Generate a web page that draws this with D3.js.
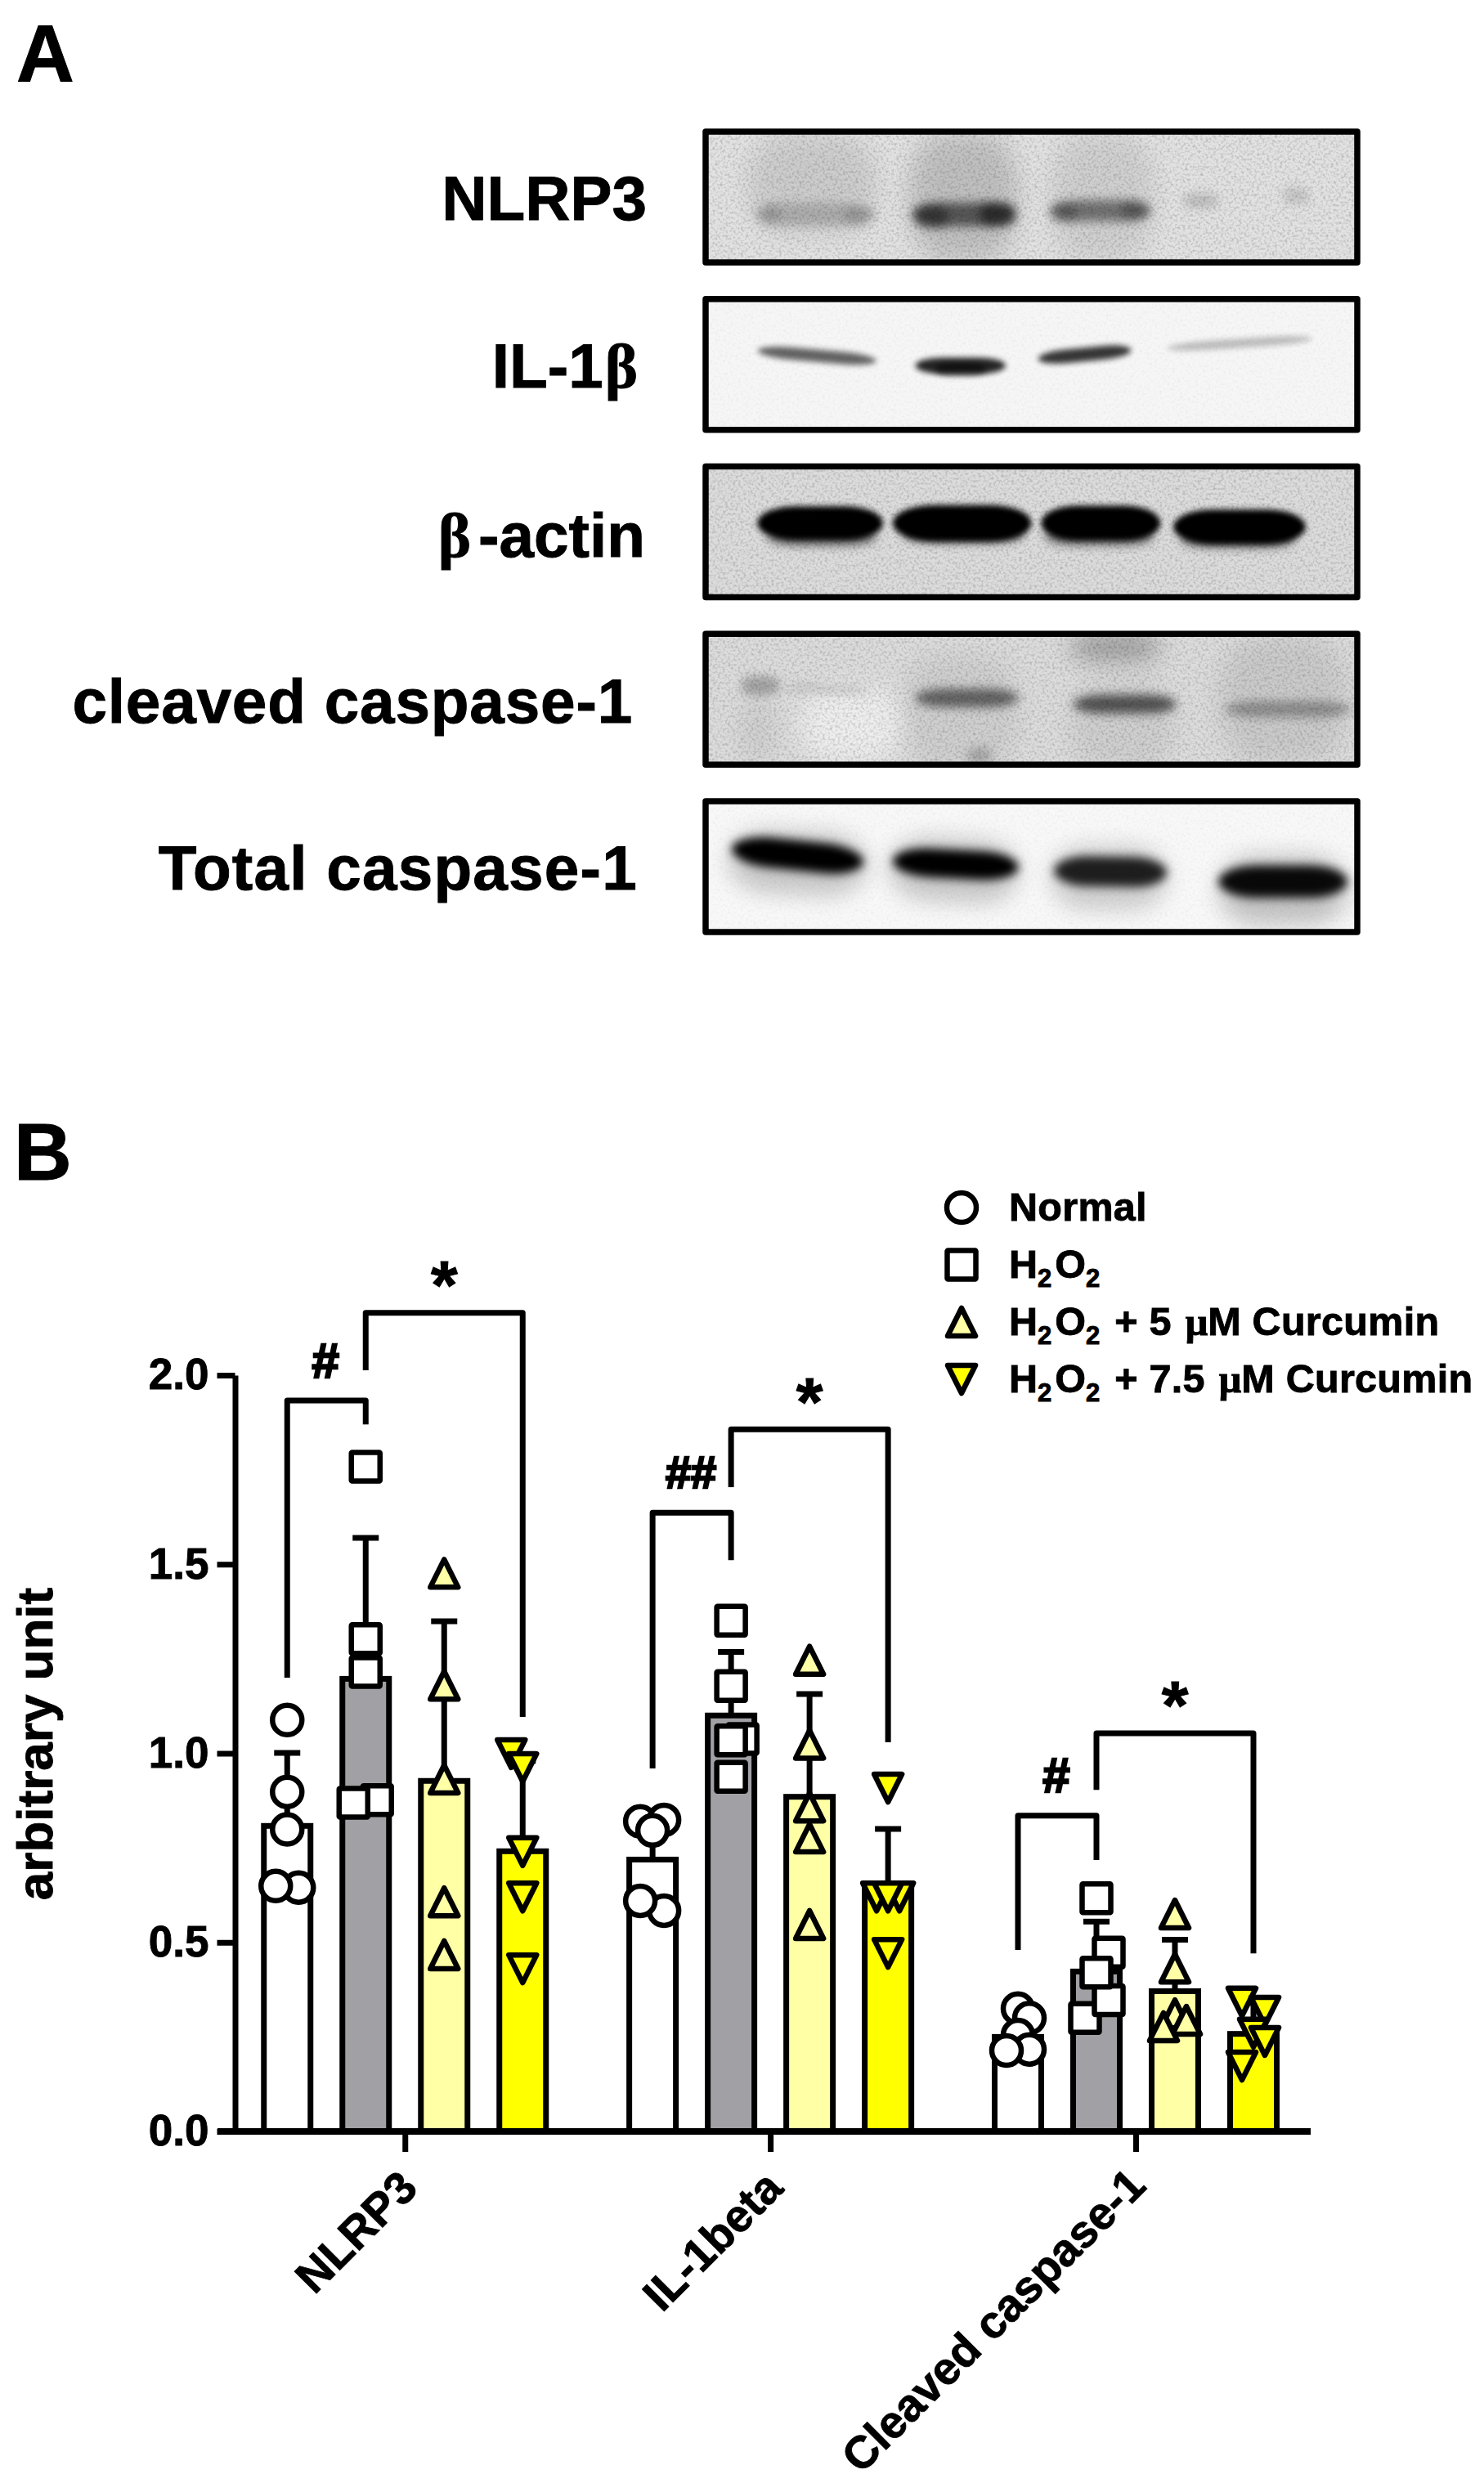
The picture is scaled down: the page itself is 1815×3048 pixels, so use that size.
<!DOCTYPE html>
<html>
<head>
<meta charset="utf-8">
<script src="https://cdn.jsdelivr.net/npm/d3@7/dist/d3.min.js"></script>
<style>
html,body{margin:0;padding:0;background:#fff}
text{font-family:"Liberation Sans",Arial,sans-serif;font-weight:700;fill:#000;stroke:#000;stroke-width:.9px}
</style>
</head>
<body>
<svg id="chart" width="1815" height="3048"></svg>
<script>
// ---------- chart values ----------
const categories = ['NLRP3', 'IL-1beta', 'Cleaved caspase-1'];
const seriesNames = ['Normal', 'H2O2', 'H2O2 + 5 µM Curcumin', 'H2O2 + 7.5 µM Curcumin'];
const yTicks = [0, 0.5, 1, 1.5, 2];

const normalMeans = [0.808, 0.719, 0.250];
const h2o2Means   = [1.197, 1.100, 0.423];
const cur5Means   = [0.927, 0.885, 0.371];
const cur75Means  = [0.741, 0.650, 0.258];

const normalTops = [1.001, 0.820, 0.310];
const h2o2Tops   = [1.570, 1.268, 0.555];
const cur5Tops   = [1.349, 1.157, 0.507];
const cur75Tops  = [0.980, 0.800, 0.340];

const normalPoints = [[1.088, 0.898, 0.799, 0.645, 0.649], [0.820, 0.824, 0.796, 0.584, 0.610], [0.325, 0.300, 0.255, 0.217, 0.214]];
const h2o2Points   = [[1.758, 1.302, 1.215, 0.876, 0.869], [1.351, 1.178, 1.038, 1.034, 0.938], [0.617, 0.473, 0.300, 0.347, 0.420]];
const cur5Points   = [[1.476, 1.180, 0.932, 0.607, 0.467], [1.246, 1.024, 0.858, 0.776, 0.547], [0.575, 0.432, 0.311, 0.294, 0.277]];
const cur75Points  = [[0.999, 0.962, 0.740, 0.620, 0.430], [0.908, 0.620, 0.620, 0.620, 0.471], [0.342, 0.318, 0.260, 0.238, 0.173]];

// sideways jitter of each point, in pixels, as the plot spreads overlapping points
const normalNudge = [[0, 0, 0, 14, -14], [-15, 14, 0, 14, -15], [0, 14, 0, 14, -14]];
const h2o2Nudge   = [[0, 0, 0, 14, -15], [0, 0, 14, 0, 0], [0, 15, -14, 15, 0]];
const cur5Nudge   = [[0, 0, 0, 0, 0], [0, 0, 0, 0, 0], [0, 0, 0, 14, -14]];
const cur75Nudge  = [[-14, 0, 0, 0, 0], [0, -14, 14, 0, 0], [-14, 14, 0, 14, -14]];

// significance brackets: category, from series, to series, top, left foot, right foot, label, label level
const bracketCat    = [0, 0, 1, 1, 2, 2];
const bracketFrom   = [0, 1, 0, 1, 0, 1];
const bracketTo     = [1, 3, 1, 3, 1, 3];
const bracketTop    = [1.933, 2.165, 1.636, 1.857, 0.835, 1.053];
const bracketLeft   = [1.200, 2.013, 0.960, 1.704, 0.480, 0.903];
const bracketRight  = [1.870, 1.096, 1.511, 1.029, 0.718, 0.471];
const bracketLabel  = ['#', '*', '##', '*', '#', '*'];
const bracketLabelY = [2.040, 2.275, 1.745, 1.966, 0.945, 1.163];

// ---------- western blot panel: band = [from %, to %, centre %, thickness %, darkness, tilt°, blur level]
const blotNames = ['NLRP3', 'IL-1β', 'β-actin', 'cleaved caspase-1', 'Total caspase-1'];
const blotBackground = ['#e2e2e2', '#f6f6f6', '#dcdcdc', '#dcdcdc', '#f8f8f8'];
const blotNLRP3 = [
  [6, 26, 40, 80, .09, 0, 2], [31, 48, 50, 100, .15, 0, 2], [53, 69, 50, 100, .08, 0, 2],
  [7, 26, 64, 18, .16, 0, 1], [8, 11, 64, 16, .12, 0, 1], [21, 25, 65, 14, .14, 0, 1],
  [31.5, 47.5, 64, 19, .55, 0, 1], [32, 37, 66, 17, .4, 0, 1], [42, 47.5, 64, 18, .5, 0, 1],
  [53, 68.5, 61, 17, .45, 0, 1], [53, 57, 63, 14, .25, 0, 1], [64, 68, 61, 14, .25, 0, 1],
  [73.5, 79, 53, 11, .16, 0, 1], [89, 93, 49, 13, .13, 0, 1]
];
const blotIL1b = [
  [7.5, 26, 43, 10, .6, 5, 0], [32, 46, 51, 13, .85, 0, 0], [35, 43, 54, 10, .5, 0, 0],
  [51, 65.5, 42, 11, .78, -5.5, 0], [71, 93.5, 33, 7, .24, -3.8, 0]
];
const blotActin = [
  [7.5, 27, 43, 27, 1, 0, 0], [28.5, 50, 43, 29, 1, 0, 0], [51.5, 70, 43, 28, 1, 0, 0], [72, 92.5, 46, 28, 1, 0, 0],
  [9, 26, 54, 14, .55, 0, 1], [30, 49, 52, 14, .55, 0, 1], [52, 69, 54, 14, .5, 0, 1], [73, 91, 56, 14, .5, 0, 1]
];
const blotCleaved = [
  [30, 48, 60, 90, .06, 0, 2], [56, 72, 70, 70, .06, 0, 2], [79, 99, 50, 100, .08, 0, 2], [56, 70, 8, 22, .28, 0, 2],
  [14, 30, 70, 60, -.5, 0, 2], [5, 10, 75, 50, .06, 0, 2], [40, 44, 96, 15, .18, 0, 1],
  [5, 11, 39, 15, .26, 0, 1], [12, 25, 42, 6, .13, 2, 1],
  [32, 48, 49, 15, .52, 0, 1], [56.5, 72.5, 54, 15, .6, 0, 1], [80, 99.5, 58, 13, .3, 0, 1]
];
const blotTotal = [
  [3, 24.5, 47, 50, .2, 3, 2], [28, 48, 53, 50, .2, 3, 2], [53, 71, 59, 50, .18, 0, 2], [79, 99, 69, 55, .22, 0, 2],
  [3.5, 24, 41, 24, 1, 6, 1], [28.5, 48, 48, 23, 1, 3, 1], [53.5, 71, 54, 24, .85, 1, 1], [79, 99, 62, 26, .95, 0, 1]
];
const blotBands = [blotNLRP3, blotIL1b, blotActin, blotCleaved, blotTotal];

// ---------- layout ----------
const svg = d3.select('#chart');
const defs = svg.append('defs');
[3.5, 6, 14].forEach((s, i) => {
  defs.append('filter').attr('id', 'blur' + i)
    .attr('x', '-100%').attr('y', '-400%').attr('width', '300%').attr('height', '900%')
    .append('feGaussianBlur').attr('stdDeviation', s);
});
const grain = defs.append('filter').attr('id', 'grain').attr('x', 0).attr('y', 0).attr('width', '100%').attr('height', '100%');
grain.append('feTurbulence').attr('type', 'fractalNoise').attr('baseFrequency', 0.32).attr('numOctaves', 2).attr('seed', 7);
grain.append('feColorMatrix').attr('values', '0 0 0 0 0  0 0 0 0 0  0 0 0 0 0  1.6 0 0 0 -0.7');

const panelLetter = (t, x, y) => svg.append('text').attr('x', x).attr('y', y).attr('font-size', 98).text(t);
panelLetter('A', 20, 99);
panelLetter('B', 17, 1443);

// --- blots
const blotX = d3.scaleLinear().domain([0, 100]).range([867, 1656]);
const blotTopScale = d3.scalePoint().domain(blotNames).range([161, 980]);
const blotH = 160;
const blotLabelBase = [269, 474, 681, 884, 1088];
const blotLabelEnd = [791, 780, 789, 774, 780];
const blotLabelSpread = [0, 0, 0, 0.8, 1.2];

blotNames.forEach((name, i) => {
  const top = blotTopScale(name);
  const blotY = d3.scaleLinear().domain([0, 100]).range([top + 4, top + blotH - 4]);
  const g = svg.append('g');
  defs.append('clipPath').attr('id', 'clip' + i).append('rect')
    .attr('x', 863).attr('y', top).attr('width', 797).attr('height', blotH);
  const inner = g.append('g').attr('clip-path', `url(#clip${i})`);
  inner.append('rect').attr('x', 863).attr('y', top).attr('width', 797).attr('height', blotH).attr('fill', blotBackground[i]);
  inner.selectAll('rect.band').data(blotBands[i]).join('rect').attr('class', 'band')
    .attr('x', d => blotX(d[0]))
    .attr('width', d => blotX(d[1]) - blotX(d[0]))
    .attr('y', d => blotY(d[2] - d[3] / 2))
    .attr('height', d => blotY(d[3]) - blotY(0))
    .attr('rx', d => (blotX(d[1]) - blotX(d[0])) * 0.3)
    .attr('ry', d => (blotY(d[3]) - blotY(0)) / 2)
    .attr('fill', d => d[4] < 0 ? '#fff' : '#000')
    .attr('opacity', d => Math.abs(d[4]))
    .attr('transform', d => `rotate(${d[5]} ${(blotX(d[0]) + blotX(d[1])) / 2} ${blotY(d[2])})`)
    .attr('filter', d => `url(#blur${d[6]})`);
  inner.append('rect').attr('x', 863).attr('y', top).attr('width', 797).attr('height', blotH)
    .attr('filter', 'url(#grain)').attr('opacity', i === 1 || i === 4 ? 0.06 : 0.28);
  g.append('rect').attr('x', 863).attr('y', top).attr('width', 797).attr('height', blotH)
    .attr('fill', 'none').attr('stroke', '#000').attr('stroke-width', 7.5).attr('stroke-linejoin', 'round');

  const t = svg.append('text').attr('x', blotLabelEnd[i]).attr('y', blotLabelBase[i])
    .attr('text-anchor', 'end').attr('font-size', 76.5).style('letter-spacing', blotLabelSpread[i] + 'px');
  name.split(/(β)/).filter(Boolean).forEach(part => {
    const s = t.append('tspan').text(part);
    if (part === 'β') s.style('font-family', '"Liberation Serif","DejaVu Serif",serif').attr('dx', name === 'IL-1β' ? 2 : null);
    if (part === '-actin') s.attr('dx', 9);
  });
});

// --- bar chart
const y = d3.scaleLinear().domain([0, 2]).range([2607, 1682]);
const xGroup = d3.scalePoint().domain(categories).range([495.25, 1389]);
const xSeries = d3.scalePoint().domain(seriesNames).range([-144, 144]);
const barW = 57, lw = 7;

const means = [normalMeans, h2o2Means, cur5Means, cur75Means];
const tops = [normalTops, h2o2Tops, cur5Tops, cur75Tops];
const pts = [normalPoints, h2o2Points, cur5Points, cur75Points];
const nudges = [normalNudge, h2o2Nudge, cur5Nudge, cur75Nudge];
const fills = ['#ffffff', '#a1a0a4', '#ffffa6', '#ffff00'];
const markFills = ['#ffffff', '#ffffff', '#ffffa6', '#ffff00'];
const center = (c, s) => xGroup(categories[c]) + xSeries(seriesNames[s]);

const barRows = [];
const pointRows = [];
seriesNames.forEach((_, s) => categories.forEach((_, c) => {
  barRows.push({ c, s, mean: means[s][c], top: tops[s][c] });
  pts[s][c].forEach((v, k) => pointRows.push({ c, s, v, dx: nudges[s][c][k] }));
}));

const chart = svg.append('g');
chart.selectAll('rect.bar').data(barRows).join('rect').attr('class', 'bar')
  .attr('x', d => center(d.c, d.s) - barW / 2).attr('width', barW)
  .attr('y', d => y(d.mean)).attr('height', d => y(0) - y(d.mean))
  .attr('fill', d => fills[d.s]).attr('stroke', '#000').attr('stroke-width', lw);
chart.selectAll('line.err').data(barRows).join('line').attr('class', 'err')
  .attr('x1', d => center(d.c, d.s)).attr('x2', d => center(d.c, d.s))
  .attr('y1', d => y(d.mean)).attr('y2', d => y(d.top))
  .attr('stroke', '#000').attr('stroke-width', lw);
chart.selectAll('line.cap').data(barRows).join('line').attr('class', 'cap')
  .attr('x1', d => center(d.c, d.s) - 16).attr('x2', d => center(d.c, d.s) + 16)
  .attr('y1', d => y(d.top)).attr('y2', d => y(d.top))
  .attr('stroke', '#000').attr('stroke-width', lw);

const triPath = dir => {
  const p = d3.path(); const h = 17;
  p.moveTo(0, -dir * h); p.lineTo(h, dir * h); p.lineTo(-h, dir * h); p.closePath();
  return p.toString();
};
function drawMark(sel, s) {
  if (s === 0) return sel.append('circle').attr('r', 18);
  if (s === 1) return sel.append('rect').attr('x', -17.5).attr('y', -17.5).attr('width', 35).attr('height', 35).attr('rx', 1);
  return sel.append('path').attr('d', triPath(s === 2 ? 1 : -1));
}
function styleMark(m, s) {
  m.attr('fill', markFills[s]).attr('stroke', '#000').attr('stroke-width', 6.5).attr('stroke-linejoin', 'round');
}
seriesNames.forEach((_, s) => {
  pointRows.filter(d => d.s === s).forEach(d => {
    const g = chart.append('g').attr('transform', `translate(${center(d.c, d.s) + d.dx},${y(d.v)})`);
    styleMark(drawMark(g, s), s);
  });
});

// axes
const yAxis = svg.append('g').attr('transform', 'translate(287.5,0)')
  .call(d3.axisLeft(y).tickValues(yTicks).tickFormat(d3.format('.1f')).tickSize(22).tickSizeOuter(0).tickPadding(10));
yAxis.selectAll('path,line').attr('stroke', '#000').attr('stroke-width', lw).attr('fill', 'none');
yAxis.selectAll('text').attr('font-size', 53).attr('font-family', '"Liberation Sans"').attr('font-weight', 700).attr('fill', '#000');

const xAxis = svg.append('g').attr('transform', `translate(0,${y(0)})`)
  .call(d3.axisBottom(xGroup).tickSize(25).tickSizeOuter(0).tickFormat(''));
xAxis.select('path').remove();
xAxis.selectAll('line').attr('stroke', '#000').attr('stroke-width', lw);
svg.append('line').attr('x1', 266).attr('x2', 1603).attr('y1', y(0)).attr('y2', y(0)).attr('stroke', '#000').attr('stroke-width', 8);

svg.selectAll('text.xl').data(categories).join('text').attr('class', 'xl')
  .attr('text-anchor', 'end').attr('font-size', 55.5)
  .attr('transform', (d, i) => `translate(${xGroup(d) + (i === 2 ? 15 : 18)},${i === 2 ? 2676 : 2679}) rotate(-45)`)
  .text(d => d);

svg.append('text').attr('transform', 'translate(64,2133) rotate(-90)')
  .attr('text-anchor', 'middle').attr('font-size', 62).text('arbitrary unit');

// brackets
bracketCat.forEach((c, i) => {
  const x0 = center(c, bracketFrom[i]), x1 = center(c, bracketTo[i]);
  const line = d3.line();
  svg.append('path').attr('d', line([[x0, y(bracketLeft[i])], [x0, y(bracketTop[i])], [x1, y(bracketTop[i])], [x1, y(bracketRight[i])]]))
    .attr('fill', 'none').attr('stroke', '#000').attr('stroke-width', lw).attr('stroke-linejoin', 'round');
  const isStar = bracketLabel[i] === '*';
  const fs = isStar ? 84 : (bracketLabel[i] === '##' ? 56 : 60);
  svg.append('text').attr('x', (x0 + x1) / 2 + (isStar ? 0 : -1)).attr('text-anchor', 'middle')
    .attr('y', y(bracketLabelY[i]) + (isStar ? 0.55 : 0.36) * fs)
    .attr('font-size', fs).style('stroke-width', isStar ? '1px' : '2.6px').text(bracketLabel[i]);
});

// legend
const legendY = d3.scalePoint().domain(seriesNames).range([1477, 1687]);
const legendBase = [1493, 1563, 1633, 1703];
seriesNames.forEach((name, s) => {
  const g = svg.append('g').attr('transform', `translate(1176,${legendY(name)})`);
  styleMark(drawMark(g, s), s);
  const t = svg.append('text').attr('x', 1234).attr('y', legendBase[s]).attr('font-size', 48.5);
  name.split(/(2|µ)/).filter(x => x !== '').forEach(part => {
    if (part === '2') {
      t.append('tspan').attr('font-size', 31).attr('dy', 11).text('2');
      t.append('tspan').attr('dy', -11).text('\u200a');
    } else if (part === 'µ') {
      t.append('tspan').attr('dx', 3).style('font-family', '"Liberation Serif","DejaVu Serif",serif').text('μ');
      t.append('tspan').attr('dx', 3).text('');
    } else {
      t.append('tspan').style('letter-spacing', part.length > 3 ? '0.3px' : '0').text(part);
    }
  });
});
</script>
</body>
</html>
